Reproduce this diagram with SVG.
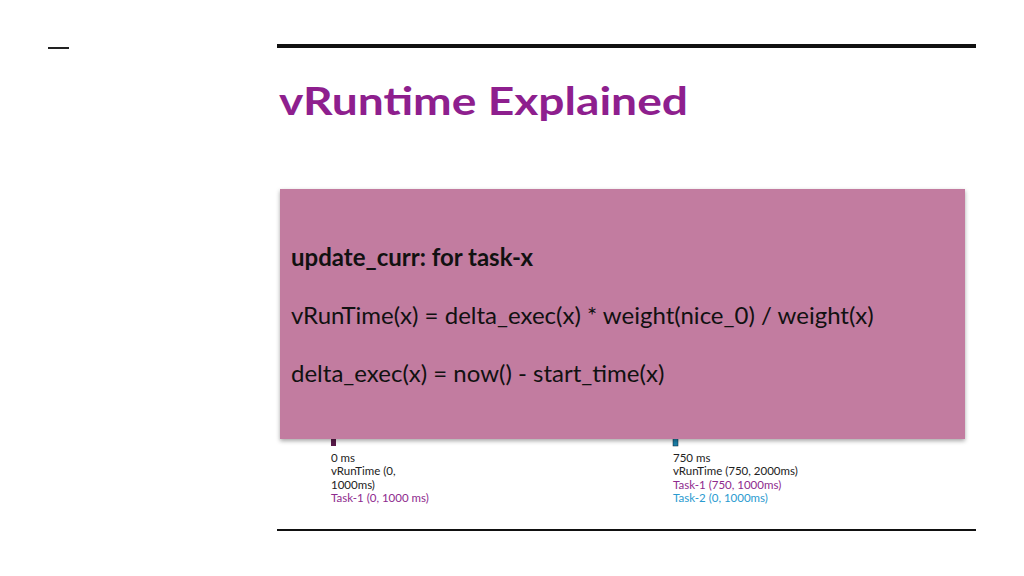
<svg xmlns="http://www.w3.org/2000/svg" width="1024" height="576" viewBox="0 0 1024 576">
<defs>
<style>
.t{font-family:Lato,"Liberation Sans",sans-serif}
.s{font-size:11.5px;fill:#222}
.p{fill:#8e2a8e}
.b{fill:#2a9bd0}
.m{font-size:24px;fill:#111}
</style>
<filter id="sh" x="-5%" y="-5%" width="110%" height="115%"><feDropShadow dx="0" dy="2" stdDeviation="2" flood-opacity="0.35"/></filter>
</defs>
<rect width="1024" height="576" fill="#fff"/>
<rect x="48" y="47" width="21" height="2" fill="#222"/>
<rect x="277" y="44" width="699" height="4" fill="#111"/>
<rect x="277" y="529" width="699" height="2" fill="#111"/>
<text class="t" x="279" y="115" font-size="39" font-weight="bold" fill="#8e1f8e" textLength="409" lengthAdjust="spacingAndGlyphs">vRuntime Explained</text>
<g id="m0"><rect x="331" y="438" width="5" height="8" fill="#5a1a4a"/>
<text class="t s" x="331" y="462">0 ms</text>
<text class="t s" x="331" y="475">vRunTime (0,</text>
<text class="t s" x="331" y="489">1000ms)</text>
<text class="t s p" x="331" y="502">Task-1 (0, 1000 ms)</text></g>
<g id="m1"><rect x="673" y="438" width="5" height="8" fill="#1a7fa8" stroke="#123" stroke-width="0.5"/>
<text class="t s" x="673" y="462">750 ms</text>
<text class="t s" x="673" y="475">vRunTime (750, 2000ms)</text>
<text class="t s p" x="673" y="489">Task-1 (750, 1000ms)</text>
<text class="t s b" x="673" y="502">Task-2 (0, 1000ms)</text></g>
<g id="box"><rect x="280" y="189" width="685" height="250" fill="#c27ba0" filter="url(#sh)"/>
<text class="t m" x="291" y="266" font-weight="bold">update_curr: for task-x</text>
<text class="t m" x="291" y="324">vRunTime(x) = delta_exec(x) * weight(nice_0) / weight(x)</text>
<text class="t m" x="291" y="382">delta_exec(x) = now() - start_time(x)</text></g>
</svg>
